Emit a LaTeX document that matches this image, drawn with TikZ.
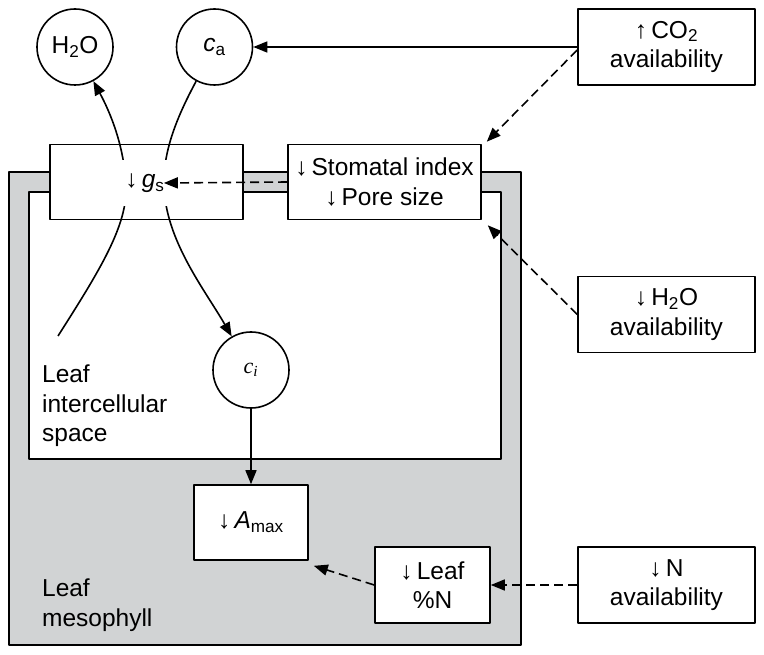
\documentclass[tikz,border=0pt]{standalone}
\usepackage{fontspec}
\setmainfont{Liberation Sans}
\newfontfamily\cifont{Liberation Serif}
\usetikzlibrary{arrows.meta}
\definecolor{mesogray}{RGB}{209,211,212}
\begin{document}
\begin{tikzpicture}[>={Triangle[length=14pt,width=11pt]}, font=\fontsize{24.5}{29.5}\selectfont, line join=round, line width=1.6pt, x=1pt, y=-1pt,
		box/.style={draw, fill=white, align=center, inner sep=0pt, minimum width=177pt, minimum height=76pt},
		pool/.style={draw, fill=white, circle, minimum size=76pt, inner sep=0pt},
		flux/.style={->, dash pattern=on 9pt off 5pt}]
	\useasboundingbox (0,0) rectangle (764,655);
	\def\xmin{9} \def\xmax{521}
	\def\ymin{172} \def\ymax{645}
	% leaf mesophyll and intercellular space
	\draw[fill=mesogray] (\xmin,\ymin) rectangle (\xmax,\ymax);
	\draw[fill=white] (\xmin+20,\ymin+20) rectangle (\xmax-20,459);
	\node[box, minimum width=193pt, minimum height=75pt] (gsbox) at (146.5,182) {};
	\node[box, minimum width=193pt, minimum height=75pt] (stom) at (384.5,182) {↓\,Stomatal index\\↓\,Pore size};
	\node[pool] (h2o) at (75,47) {H\textsubscript{2}O};
	\node[pool] (ca) at (214.5,47) {\textit{c}\textsubscript{a}};
	\node[pool] (ci) at (251,370) {\cifont\fontsize{22}{22}\selectfont\textit{c}\textsubscript{\textit{i}}};
	\node[box, minimum width=114pt, minimum height=75pt] (amax) at (251,522.5) {↓\,\textit{A}\textsubscript{max}};
	\node[box, minimum width=115pt] (leafn) at (432.5,585) {↓\,Leaf\\\%N};
	\node[box] (co2) at (666.5,47) {↑\,CO\textsubscript{2}\\availability};
	\node[box] (h2oav) at (666.5,314.5) {↓\,H\textsubscript{2}O\\availability};
	\node[box] (nav) at (666.5,585) {↓\,N\\availability};
	\node[align=left, anchor=west] (space) at (38,406) {Leaf\\intercellular\\space};
	\node[align=left, anchor=west] (meso) at (38,605) {Leaf\\mesophyll};
	% fluxes through the stoma
	\coordinate (h2ostart) at (58,336);
	\draw[->] (h2ostart) .. controls (100,270) and (128,225) .. (126,185) .. controls (124,145) and (110,112) .. (h2o);
	\draw[->] (ca) .. controls (178,115) and (163,150) .. (164,185) .. controls (165,240) and (205,290) .. (ci);
	\node[fill=white, minimum width=52pt, minimum height=46pt, inner sep=0pt] (gs) at (145,183) {↓\,\textit{g}\textsubscript{s}};
	\draw[->] (co2.west) -- (ca);
	\draw[->] (ci) -- (amax);
	\draw[flux] (stom.west) -- ([xshift=-8pt]gs.east);
	\draw[flux] ([yshift=-3pt]co2.west) -- ([shift={(5pt,2pt)}]stom.north east);
	\draw[flux] (h2oav.west) -- ([shift={(6pt,-5pt)}]stom.south east);
	\draw[flux] (leafn.west) -- ([shift={(5pt,-5pt)}]amax.south east);
	\draw[flux] (nav.west) -- (leafn.east);
\end{tikzpicture}
\end{document}
